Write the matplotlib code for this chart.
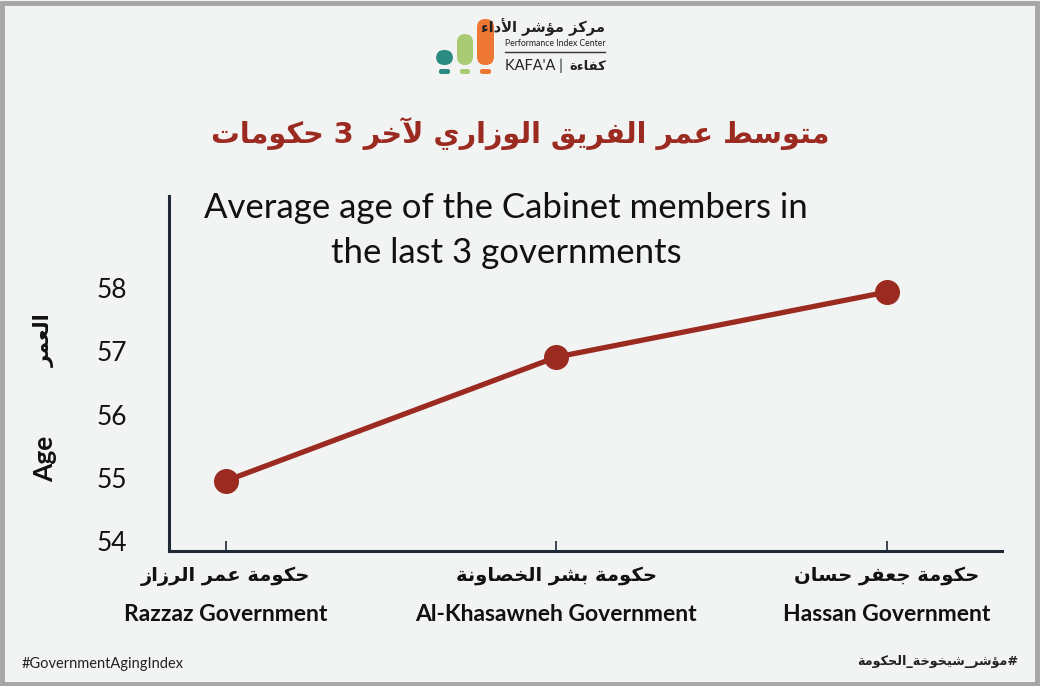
import matplotlib
matplotlib.use("Agg")
import matplotlib.pyplot as plt
from matplotlib.patches import FancyBboxPatch, Rectangle

# data
gov_ar = ["حكومة عمر الرزاز", "حكومة بشر الخصاونة", "حكومة جعفر حسان"]
gov_en = ["Razzaz Government", "Al-Khasawneh Government", "Hassan Government"]
avg_age = [54.95, 56.91, 57.94]
y_ticks = [54, 55, 56, 57, 58]

title_ar = "متوسط عمر الفريق الوزاري لآخر 3 حكومات"
subtitle = ["Average age of the Cabinet members in", "the last 3 governments"]

# --- tiny arabic shaper (matplotlib has no text shaping) ---
letters = "ءآأؤإئابةتثجحخدذرزسشصضطظعغفقكلمنهوىي"
counts = [1, 2, 2, 2, 2, 4, 2, 4, 2, 4, 4, 4, 4, 4, 2, 2, 2, 2, 4, 4, 4, 4,
          4, 4, 4, 4, 4, 4, 4, 4, 4, 4, 4, 2, 2, 4]
forms = {}
cp = 0xFE80
for ch, n in zip(letters, counts):
    f = [chr(cp + k) for k in range(n)]
    while len(f) < 4:
        f.append(f[-1] if n > 1 else f[0])
    forms[ch] = (f, n)
    cp += n
lam_alef = {"آ": 0xFEF5, "أ": 0xFEF7, "إ": 0xFEF9, "ا": 0xFEFB}


def joins_next(ch):
    return ch == "ـ" or (ch in forms and forms[ch][1] == 4)


def joins_prev(ch):
    return ch == "ـ" or (ch in forms and forms[ch][1] >= 2)


def ar(text):
    # merge lam + alef first
    chars = []
    i = 0
    while i < len(text):
        if text[i] == "ل" and i + 1 < len(text) and text[i + 1] in lam_alef:
            chars.append(("LA", lam_alef[text[i + 1]]))
            i += 2
        else:
            chars.append(("C", text[i]))
            i += 1
    out = []
    for j, (kind, c) in enumerate(chars):
        prev = chars[j - 1] if j > 0 else None
        nxt = chars[j + 1] if j + 1 < len(chars) else None
        p = prev is not None and prev[0] == "C" and joins_next(prev[1])
        if kind == "LA":
            out.append(chr(c + 1) if p else chr(c))
            continue
        if c not in forms:
            out.append(c)
            continue
        f, n = forms[c]
        p = p and n >= 2
        q = n == 4 and nxt is not None and (nxt[0] == "LA" or joins_prev(nxt[1]))
        if p and q:
            out.append(f[3])
        elif p:
            out.append(f[1])
        elif q:
            out.append(f[2])
        else:
            out.append(f[0])
    return "".join(out)[::-1]


bg = "#F2F3F3"
red = "#9B2A20"
navy = "#1F2A36"
en_font = ["Lato", "DejaVu Sans"]

fig = plt.figure(figsize=(10.4, 6.86), dpi=100)
fig.patch.set_facecolor(bg)
# grey frame
fig.patches.append(Rectangle((0.002, 0.003), 0.995, 0.992, transform=fig.transFigure,
                             fill=False, edgecolor="#A6A6A6", linewidth=3.5))

ax = fig.add_axes([0.1625, 0.1968, 0.801, 0.5175])
ax.set_facecolor("none")
x = list(range(len(avg_age)))
ax.plot(x, avg_age, color=red, linewidth=3.8, marker="o", markersize=17,
        solid_capstyle="round")
ax.set_xlim(-0.172, 2.348)
ax.set_ylim(53.84, 59.46)
ax.set_yticks(y_ticks)
ax.set_yticklabels([str(v) for v in y_ticks], fontsize=19, family=en_font, color="#111111")
ax.tick_params(axis="y", length=0, pad=30)
ax.set_xticks(x)
ax.set_xticklabels([])
ax.tick_params(axis="x", direction="in", length=7, width=1.2, color=navy)
for s in ["top", "right"]:
    ax.spines[s].set_visible(False)
for s in ["left", "bottom"]:
    ax.spines[s].set_color(navy)
    ax.spines[s].set_linewidth(2.2)

# category labels (arabic + english) under each tick
for xi, a, e in zip(x, gov_ar, gov_en):
    ax.text(xi, -0.07, ar(a), transform=ax.get_xaxis_transform(), ha="center", va="center",
            fontsize=14, fontweight="bold", family="DejaVu Sans", color="#111111")
    ax.text(xi, -0.178, e, transform=ax.get_xaxis_transform(), ha="center", va="center",
            fontsize=16.5, fontweight="bold", family=en_font, color="#111111")

# y label
fig.text(0.043, 1 - 459 / 686, "Age", rotation=90, ha="center", va="center", fontsize=19,
         fontweight="bold", family=en_font, color="#111111")
fig.text(0.043, 1 - 340 / 686, ar("العمر"), rotation=90, ha="center", va="center", fontsize=15,
         fontweight="bold", family="DejaVu Sans", color="#111111")

# titles
fig.text(0.5, 1 - 133 / 686, ar(title_ar), ha="center", va="center", fontsize=20.6,
         fontweight="bold", family="DejaVu Sans", color=red)
fig.text(506 / 1040, 1 - 208 / 686, subtitle[0], ha="center", va="center", fontsize=25,
         family=en_font, color="#111111")
fig.text(506 / 1040, 1 - 253 / 686, subtitle[1], ha="center", va="center", fontsize=25,
         family=en_font, color="#111111")

# logo
bars = [(436, 50, 17, 15, "#2A8C82"), (457, 34, 16, 31, "#A9CB73"), (477, 19, 17, 46, "#EE7733")]
for px, py, w, h, c in bars:
    fig.patches.append(FancyBboxPatch((px / 1040, 1 - (py + h) / 686), w / 1040, h / 686,
                                      boxstyle="round,pad=0,rounding_size=0.008",
                                      transform=fig.transFigure, facecolor=c, edgecolor="none",
                                      mutation_aspect=1040 / 686))
    fig.patches.append(FancyBboxPatch(((px + 3) / 1040, 1 - 74 / 686), (w - 6) / 1040, 5 / 686,
                                      boxstyle="round,pad=0,rounding_size=0.002",
                                      transform=fig.transFigure, facecolor=c, edgecolor="none",
                                      mutation_aspect=1040 / 686))
fig.text(605 / 1040, 1 - 27 / 686, ar("مركز مؤشر الأداء"), ha="right", va="center",
         fontsize=10.5, fontweight="bold", family="DejaVu Sans", color="#222222")
fig.text(505 / 1040, 1 - 43 / 686, "Performance Index Center", ha="left", va="center",
         fontsize=6.2, family=en_font, color="#222222")
fig.add_artist(plt.Line2D([505 / 1040, 605 / 1040], [1 - 52 / 686, 1 - 52 / 686],
                          color="#333333", linewidth=1))
fig.text(505 / 1040, 1 - 66 / 686, "KAFA'A |", ha="left", va="center",
         fontsize=10.5, family=en_font, color="#222222")
fig.text(606 / 1040, 1 - 66 / 686, ar("كفاءة"), ha="right", va="center",
         fontsize=9.5, fontweight="bold", family="DejaVu Sans", color="#222222")

# footer
fig.text(22 / 1040, 1 - 664 / 686, "#GovernmentAgingIndex", ha="left", va="center",
         fontsize=10.5, family=en_font, color="#222222")
fig.text(1018 / 1040, 1 - 662 / 686, ar("#مؤشر_شيخوخة_الحكومة"), ha="right",
         va="center", fontsize=9.2, fontweight="bold", family="DejaVu Sans", color="#222222")

fig.savefig("out.png", dpi=100, facecolor=bg)
